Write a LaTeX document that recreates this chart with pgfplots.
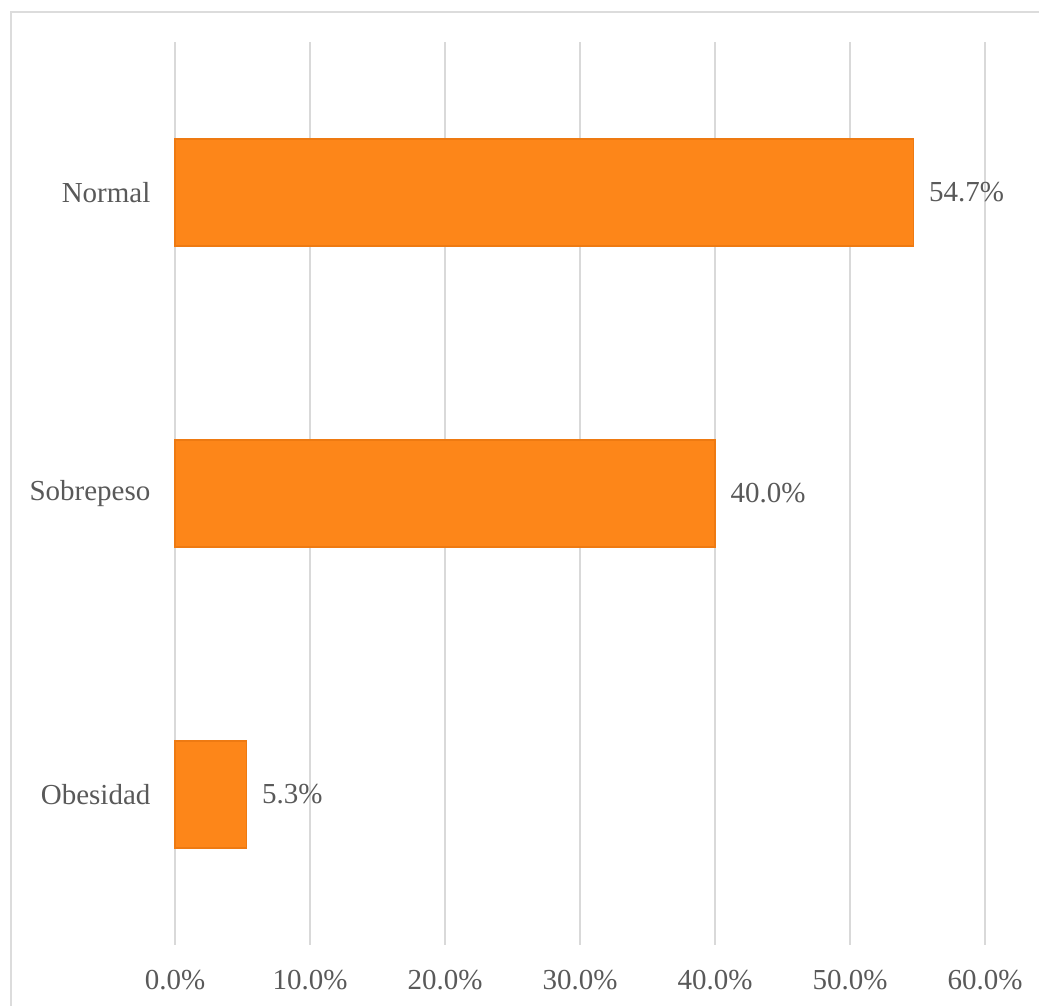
\documentclass[border=0pt]{standalone}
\usepackage{pgfplots}
\pgfplotsset{compat=1.18}
\usepackage{fontspec}
\setmainfont{Liberation Serif}
\definecolor{barfill}{HTML}{FD8619}
\definecolor{baredge}{HTML}{EE7A12}
\definecolor{gridc}{HTML}{D9D9D9}
\definecolor{framec}{HTML}{DCDCDC}
\definecolor{txt}{HTML}{595959}
\begin{document}
\begin{tikzpicture}
\useasboundingbox (0,0) rectangle (519.5pt,503pt);
\draw[framec, line width=1.3pt] (5.5pt,0) -- (5.5pt,497pt) -- (519.5pt,497pt);
\begin{axis}[
  at={(87.5pt,30.5pt)}, anchor=south west,
  scale only axis,
  width=405pt, height=451.5pt,
  xbar, bar width=53.5pt,
  xmin=0, xmax=60, ymin=-0.5, ymax=2.5,
  xtick={0,10,...,60},
  ytick={0,1,2},
  yticklabels={Obesidad,Sobrepeso,Normal},
  xmajorgrids, grid style={gridc, line width=0.8pt},
  axis line style={draw=none},
  tick style={draw=none},
  clip=false,
  /pgf/number format/assume math mode=true,
  xticklabel={\pgfmathprintnumber[fixed,fixed zerofill,precision=1]{\tick}\%},
  xticklabel style={font=\fontsize{14.5}{17}\selectfont, text=txt, yshift=-9pt},
  yticklabel style={font=\fontsize{14.5}{17}\selectfont, text=txt, xshift=-4.5pt},
  nodes near coords={\pgfmathprintnumber[fixed,fixed zerofill,precision=1,assume math mode=true]{\pgfplotspointmeta}\%},
  nodes near coords style={font=\fontsize{14.5}{17}\selectfont, text=txt, xshift=4.2pt},
]
\addplot[fill=barfill, draw=baredge, line width=0.6pt] coordinates {(5.3,0) (40.0,1) (54.7,2)};
\end{axis}
\end{tikzpicture}
\end{document}
